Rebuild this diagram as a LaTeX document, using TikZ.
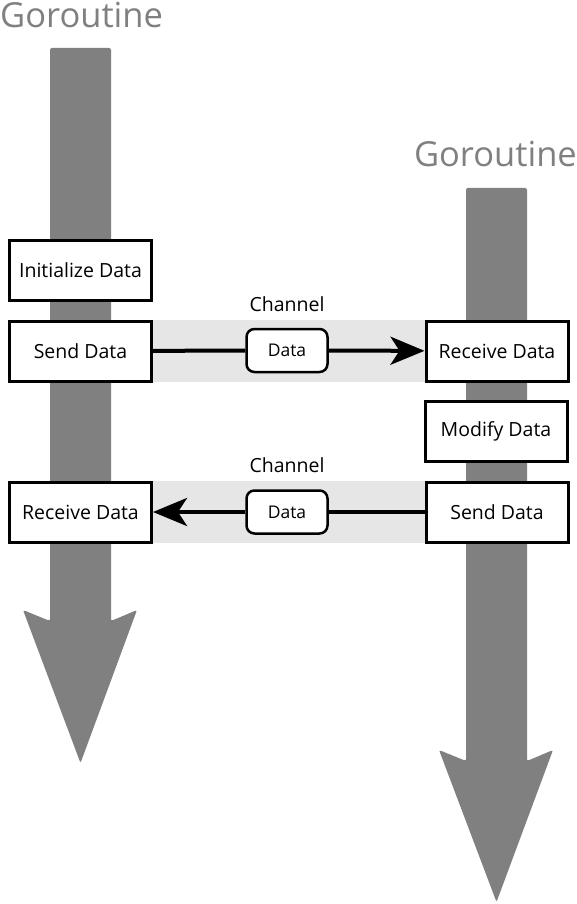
\documentclass[tikz,border=0pt]{standalone}
\usepackage{fontspec}
\setmainfont{Open Sans}
\usetikzlibrary{arrows.meta}
\definecolor{shaft}{HTML}{808080}
\definecolor{band}{HTML}{E6E6E6}
\tikzset{
  stepbox/.style={draw=black, line width=3pt, fill=white, minimum width=142pt, minimum height=60pt, inner sep=0pt, font=\fontsize{19.5}{21}\selectfont},
  databox/.style={draw=black, line width=2.5pt, fill=white, rounded corners=8pt, minimum width=81pt, minimum height=43pt, inner sep=0pt, font=\fontsize{17.5}{19}\selectfont},
  title/.style={text=shaft, font=\fontsize{34.5}{38}\selectfont, inner sep=0pt},
  chan/.style={font=\fontsize{19.5}{21}\selectfont, inner sep=0pt},
  flow/.style={line width=4pt, draw=black},
  bigarrow/.style={fill=shaft, rounded corners=2pt}
}
\begin{document}
\begin{tikzpicture}[x=1pt,y=-1pt]
\useasboundingbox (0,0) rectangle (577,904);
% goroutine arrows
\fill[bigarrow] (50,48) -- (111,48) -- (111,621) -- (137,610) -- (80.5,763) -- (23,610) -- (50,621) -- cycle;
\fill[bigarrow] (466,188) -- (527,188) -- (527,761) -- (553,750) -- (496.5,902) -- (439,750) -- (466,761) -- cycle;
\node[title, anchor=base west] (t1) at (0,28) {Goroutine};
\node[title, anchor=base east] (t2) at (577,167) {Goroutine};
% channel bands
\fill[band] (153,320) rectangle (425,382);
\fill[band] (153,481) rectangle (425,543);
\node[chan, anchor=base] (c1) at (287,311) {Channel};
\node[chan, anchor=base] (c2) at (287,472) {Channel};
% boxes
\node[stepbox] (init) at (80.5,270) {Initialize Data};
\node[stepbox] (sendL) at (80.5,351) {Send Data};
\node[stepbox] (recvR) at (497,351) {Receive Data};
\node[stepbox] (mod) at (496,431) {Modify Data};
\node[stepbox] (recvL) at (80.5,512) {Receive Data};
\node[stepbox] (sendR) at (497,512) {Send Data};
\node[databox] (d1) at (287,350.5) {Data};
\node[databox] (d2) at (287,512) {Data};
% connectors
\draw[flow] (sendL) -- (d1);
\draw[flow, -{Stealth[length=34pt, width=28pt, inset=9pt]}] (d1) -- (recvR);
\draw[flow] (sendR) -- (d2);
\draw[flow, -{Stealth[length=34pt, width=28pt, inset=9pt]}] (d2) -- (recvL);
\end{tikzpicture}
\end{document}
